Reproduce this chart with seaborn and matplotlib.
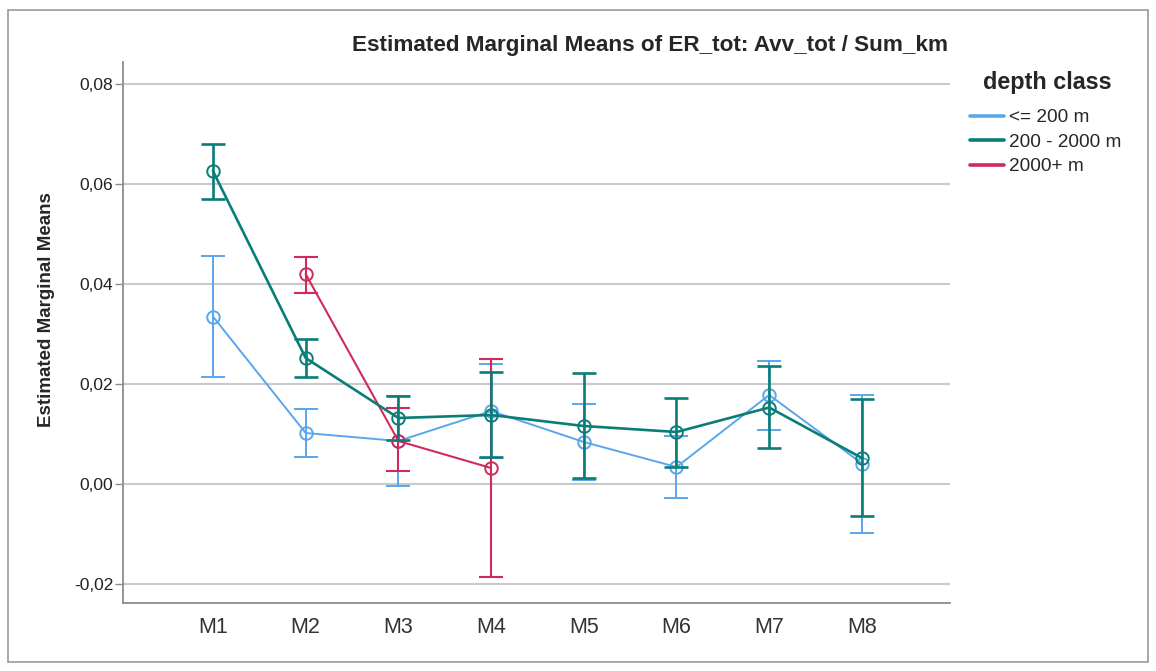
import numpy as np
import pandas as pd
import matplotlib
matplotlib.use('Agg')
import matplotlib.pyplot as plt
import seaborn as sns
from matplotlib.lines import Line2D
from matplotlib.patches import Rectangle
from matplotlib.ticker import FuncFormatter

# values
models = ['M1', 'M2', 'M3', 'M4', 'M5', 'M6', 'M7', 'M8']

shallow_mean = [0.0334, 0.0101, 0.0085, 0.0145, 0.0083, 0.0033, 0.0177, 0.0040]
shallow_lo = [0.0214, 0.0053, -0.0005, 0.0051, 0.0007, -0.0029, 0.0107, -0.0099]
shallow_hi = [0.0456, 0.0150, 0.0175, 0.0239, 0.0159, 0.0095, 0.0245, 0.0177]

mid_mean = [0.0625, 0.0251, 0.0131, 0.0137, 0.0115, 0.0103, 0.0152, 0.0051]
mid_lo = [0.0570, 0.0213, 0.0087, 0.0053, 0.0011, 0.0033, 0.0071, -0.0065]
mid_hi = [0.0680, 0.0289, 0.0175, 0.0223, 0.0221, 0.0171, 0.0235, 0.0170]

deep_models = ['M2', 'M3', 'M4']
deep_mean = [0.0419, 0.0085, 0.0031]
deep_lo = [0.0381, 0.0025, -0.0187]
deep_hi = [0.0453, 0.0151, 0.0250]

groups = ['<= 200 m', '200 - 2000 m', '2000+ m']
yticks = [-0.02, 0.00, 0.02, 0.04, 0.06, 0.08]

palette = {'<= 200 m': '#5aa6ec', '200 - 2000 m': '#0b7d78', '2000+ m': '#d02a5c'}
widths = {'<= 200 m': 1.4, '200 - 2000 m': 1.9, '2000+ m': 1.5}

frames = [
    pd.DataFrame({'model': models, 'mean': shallow_mean, 'lo': shallow_lo,
                  'hi': shallow_hi, 'depth': groups[0]}),
    pd.DataFrame({'model': models, 'mean': mid_mean, 'lo': mid_lo,
                  'hi': mid_hi, 'depth': groups[1]}),
    pd.DataFrame({'model': deep_models, 'mean': deep_mean, 'lo': deep_lo,
                  'hi': deep_hi, 'depth': groups[2]}),
]
df = pd.concat(frames, ignore_index=True)

sns.set_style('white')
plt.rcParams['font.family'] = ['Liberation Sans', 'DejaVu Sans']

fig = plt.figure(figsize=(11.56, 6.71), dpi=100)
ax = fig.add_axes([123 / 1156, 1 - 603 / 671, 827 / 1156, 541 / 671])

# make sure the category order is M1..M8
ax.plot(models, [np.nan] * len(models))

order_z = {'<= 200 m': 3, '2000+ m': 4, '200 - 2000 m': 5}
for g in groups:
    sub = df[df['depth'] == g]
    sns.lineplot(data=sub, x='model', y='mean', ax=ax, color=palette[g],
                 linewidth=widths[g], marker='o', markersize=9,
                 markerfacecolor='none', markeredgecolor=palette[g],
                 markeredgewidth=1.4, sort=False, legend=False,
                 zorder=order_z[g])
    ax.errorbar(sub['model'], sub['mean'],
                yerr=[sub['mean'] - sub['lo'], sub['hi'] - sub['mean']],
                fmt='none', ecolor=palette[g], elinewidth=widths[g],
                capsize=8.3, capthick=widths[g], zorder=order_z[g])

ax.set_xlim(-0.97, 7.95)
ax.set_ylim(-0.0239, 0.0843)
ax.set_yticks(yticks)
ax.yaxis.set_major_formatter(FuncFormatter(lambda v, p: f'{v:.2f}'.replace('.', ',')))
ax.grid(axis='y', color='#c9c9c9', linewidth=1.5)
ax.grid(axis='x', visible=False)
ax.set_axisbelow(True)

for s in ['top', 'right']:
    ax.spines[s].set_visible(False)
for s in ['left', 'bottom']:
    ax.spines[s].set_color('#8c8c8c')
    ax.spines[s].set_linewidth(1.3)

ax.tick_params(axis='y', which='major', length=6, width=1, color='#8c8c8c',
               labelsize=12.5, labelcolor='#222222', pad=1, left=True)
ax.tick_params(axis='x', length=0, labelsize=15.5, labelcolor='#333333', pad=10)
ax.set_xlabel('')
ax.set_ylabel('Estimated Marginal Means', fontsize=13.5, fontweight='bold')
ax.yaxis.set_label_coords(-0.082, (603 - 310) / 541)

fig.text(948 / 1156, 1 - 45 / 671,
         'Estimated Marginal Means of ER_tot: Avv_tot / Sum_km',
         ha='right', va='center', fontsize=16.2, fontweight='bold')

# legend title drawn on its own, entries below it
fig.text(1047 / 1156, 1 - 82 / 671, 'depth class', ha='center', va='center',
         fontsize=16.8, fontweight='bold')
handles = [Line2D([0], [0], color=palette[g], linewidth=2.6) for g in groups]
leg = ax.legend(handles, groups, loc='upper left',
                bbox_to_anchor=(970 / 1156, 1 - 109 / 671),
                bbox_transform=fig.transFigure, frameon=False,
                fontsize=13.7, handlelength=1.8,
                handletextpad=0.25, labelspacing=0.38, borderpad=0,
                borderaxespad=0)

# outer frame of the exported chart
fig.patches.append(Rectangle((8 / 1156, 1 - 662 / 671), 1140 / 1156, 652 / 671,
                             transform=fig.transFigure, fill=False,
                             edgecolor='#9a9a9a', linewidth=1.2))

fig.savefig('out.png', dpi=100)
